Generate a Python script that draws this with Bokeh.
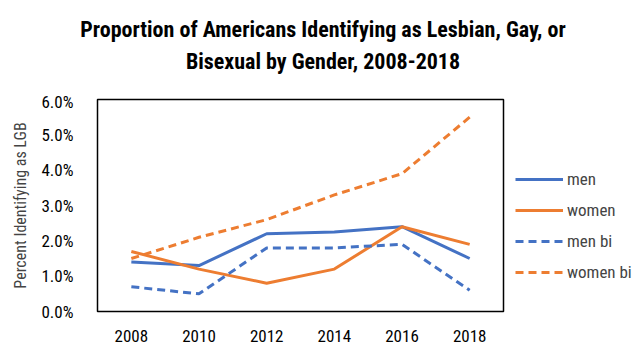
from bokeh.plotting import figure
from bokeh.layouts import row, column
from bokeh.models import Legend, LegendItem, FixedTicker, NumeralTickFormatter, Range1d, FactorRange, Div
from bokeh.embed import file_html
from bokeh.resources import INLINE

years = ["2008", "2010", "2012", "2014", "2016", "2018"]
men = [0.014, 0.013, 0.022, 0.0225, 0.024, 0.015]
women = [0.017, 0.012, 0.008, 0.012, 0.024, 0.019]
men_bi = [0.007, 0.005, 0.018, 0.018, 0.019, 0.006]
women_bi = [0.015, 0.021, 0.026, 0.033, 0.039, 0.055]
y_ticks = [0.0, 0.01, 0.02, 0.03, 0.04, 0.05, 0.06]
series_labels = ["men", "women", "men bi", "women bi"]
title_lines = ["Proportion of Americans Identifying as Lesbian, Gay, or",
               "Bisexual by Gender, 2008-2018"]

FONT = "Liberation Sans Narrow, Roboto Condensed, Open Sans"
BLUE = "#4472C4"
ORANGE = "#ED7D31"
styles = [(BLUE, "solid"), (ORANGE, "solid"), (BLUE, "8 5"), (ORANGE, "8 5")]
series = [men, women, men_bi, women_bi]

title = Div(text="<br>".join(title_lines), width=636, height=81,
            styles={"font-family": FONT, "font-weight": "bold", "font-size": "22px",
                    "text-align": "center", "line-height": "32px", "padding-top": "9px",
                    "color": "black", "width": "636px"})

p = figure(width=508, height=268, x_range=FactorRange(*years), y_range=Range1d(0, 0.06),
           output_backend="svg", toolbar_location=None,
           min_border_left=97, min_border_right=5, min_border_bottom=48, min_border_top=8)

p.outline_line_color = "black"
p.outline_line_width = 1.5
p.xgrid.visible = False
p.ygrid.visible = False

for vals, (col, dash) in zip(series, styles):
    p.line(years, vals, line_color=col, line_width=3, line_dash=dash)

p.yaxis.ticker = FixedTicker(ticks=y_ticks)
p.yaxis.formatter = NumeralTickFormatter(format="0.0%")
for ax in (p.xaxis[0], p.yaxis[0]):
    ax.axis_line_color = None
    ax.major_tick_line_color = None
    ax.minor_tick_line_color = None
    ax.major_label_text_font = FONT
    ax.major_label_text_font_size = "17px"
    ax.major_label_text_color = "black"
p.yaxis.major_label_standoff = 18
p.xaxis.major_label_standoff = 12
p.yaxis.axis_label = "Percent Identifying as LGB"
p.yaxis.axis_label_text_font = FONT
p.yaxis.axis_label_text_font_style = "normal"
p.yaxis.axis_label_text_font_size = "16px"
p.yaxis.axis_label_standoff = 8

# legend panel (its lines use the same data but lie outside its visible range)
lf = figure(width=128, height=268, x_range=FactorRange(*years), y_range=Range1d(1, 2),
            output_backend="svg", toolbar_location=None,
            min_border_left=0, min_border_right=0, min_border_top=8, min_border_bottom=48)
lf.axis.visible = False
lf.grid.visible = False
lf.outline_line_color = None
items = []
for lab, vals, (col, dash) in zip(series_labels, series, styles):
    r = lf.line(years, vals, line_color=col, line_width=3, line_dash=dash)
    items.append(LegendItem(label=lab, renderers=[r]))
legend = Legend(items=items, location=(7, 29), border_line_color=None, background_fill_alpha=0,
                label_text_font=FONT, label_text_font_size="17px",
                glyph_width=48, glyph_height=20, label_standoff=4, spacing=11,
                padding=0, margin=0)
lf.add_layout(legend, "center")

open("out.html", "w").write(file_html(column(title, row(p, lf)), INLINE))
